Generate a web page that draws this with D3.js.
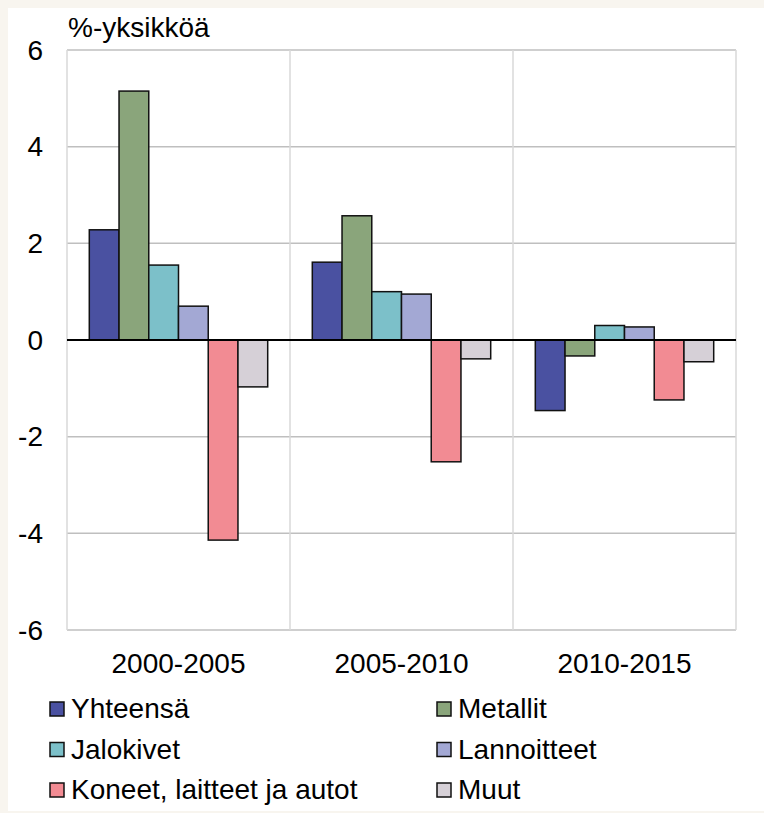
<!DOCTYPE html>
<html>
<head>
<meta charset="utf-8">
<script src="https://cdn.jsdelivr.net/npm/d3@7"></script>
<style>
  body { margin: 0; background: #f8f5ef; }
  svg { display: block; }
  text { font-family: "Liberation Sans", Arial, sans-serif; fill: #000; }
</style>
</head>
<body>
<div id="chart"></div>
<script>
// periods and series
const periods = ['2000-2005', '2005-2010', '2010-2015']
const series = ['Yhteensä', 'Metallit', 'Jalokivet', 'Lannoitteet', 'Koneet, laitteet ja autot', 'Muut']
const colors = ['#4a51a1', '#8aa57b', '#7cc0c9', '#a3a8d4', '#f28b93', '#d6d0d7']

// values per series, one per period (%-yksikköä)
const yhteensa = [2.28, 1.61, -1.46]
const metallit = [5.15, 2.57, -0.33]
const jalokivet = [1.55, 1.00, 0.30]
const lannoitteet = [0.70, 0.95, 0.27]
const koneet = [-4.14, -2.52, -1.24]
const muut = [-0.97, -0.39, -0.45]

const yTicks = [-6, -4, -2, 0, 2, 4, 6]
const unitLabel = '%-yksikköä'

const values = [yhteensa, metallit, jalokivet, lannoitteet, koneet, muut]

const width = 764, height = 813
const m = { left: 67, right: 736, top: 50, bottom: 630 }
const fontSize = '28px'

const svg = d3.select('#chart')
.append('svg')
.attr('width', width)
.attr('height', height)

// white panel
svg.append('rect')
.attr('x', 8).attr('y', 8)
.attr('width', width - 8).attr('height', 803)
.attr('fill', '#fff')

const x0 = d3.scaleBand()
.domain(periods)
.range([m.left, m.right])

const x1 = d3.scaleBand()
.domain(series)
.range([0, x0.bandwidth()])
.paddingOuter(0.75)

const y = d3.scaleLinear()
.domain([-6, 6])
.range([m.bottom, m.top])

// horizontal grid
svg.append('g')
.selectAll('line')
.data(yTicks.filter(d => d != 0))
.enter()
.append('line')
.attr('x1', m.left).attr('x2', m.right)
.attr('y1', d => y(d)).attr('y2', d => y(d))
.attr('stroke', '#bfbfbf')
.attr('stroke-width', 1.5)

// vertical separators
const seps = [m.left].concat(periods.map(p => x0(p) + x0.bandwidth()))
svg.append('g')
.selectAll('line')
.data(seps)
.enter()
.append('line')
.attr('x1', d => d).attr('x2', d => d)
.attr('y1', m.top).attr('y2', m.bottom)
.attr('stroke', '#d9d9d9')
.attr('stroke-width', 1.5)

// y tick labels
svg.append('g')
.selectAll('text')
.data(yTicks)
.enter()
.append('text')
.attr('x', 43)
.attr('y', d => y(d))
.attr('dy', '0.35em')
.attr('text-anchor', 'end')
.style('font-size', fontSize)
.text(d => d)

svg.append('text')
.attr('x', 68)
.attr('y', 37)
.style('font-size', fontSize)
.text(unitLabel)

// bars
const groups = svg.append('g')
.selectAll('g')
.data(periods)
.enter()
.append('g')
.attr('transform', p => `translate(${x0(p)},0)`)

groups.selectAll('rect')
.data((p, i) => series.map((s, j) => ({ s: s, v: values[j][i], c: colors[j] })))
.enter()
.append('rect')
.attr('x', d => x1(d.s))
.attr('width', x1.bandwidth())
.attr('y', d => y(Math.max(0, d.v)))
.attr('height', d => Math.abs(y(d.v) - y(0)))
.attr('fill', d => d.c)
.attr('stroke', '#111')
.attr('stroke-width', 1.5)

// zero line
svg.append('line')
.attr('x1', m.left).attr('x2', m.right)
.attr('y1', y(0)).attr('y2', y(0))
.attr('stroke', '#000')
.attr('stroke-width', 2)

// category labels
svg.append('g')
.selectAll('text')
.data(periods)
.enter()
.append('text')
.attr('x', p => x0(p) + x0.bandwidth() / 2)
.attr('y', 673)
.attr('text-anchor', 'middle')
.style('font-size', fontSize)
.text(p => p)

// legend
const legend = svg.append('g')
.selectAll('g')
.data(series)
.enter()
.append('g')
.attr('transform', (s, i) => `translate(${i % 2 ? 437 : 50},${702 + Math.floor(i / 2) * 40.5})`)

legend.append('rect')
.attr('width', 14).attr('height', 14)
.attr('fill', (s, i) => colors[i])
.attr('stroke', '#111')
.attr('stroke-width', 1.5)

legend.append('text')
.attr('x', 21)
.attr('y', 16)
.style('font-size', fontSize)
.text(s => s)
</script>
</body>
</html>
